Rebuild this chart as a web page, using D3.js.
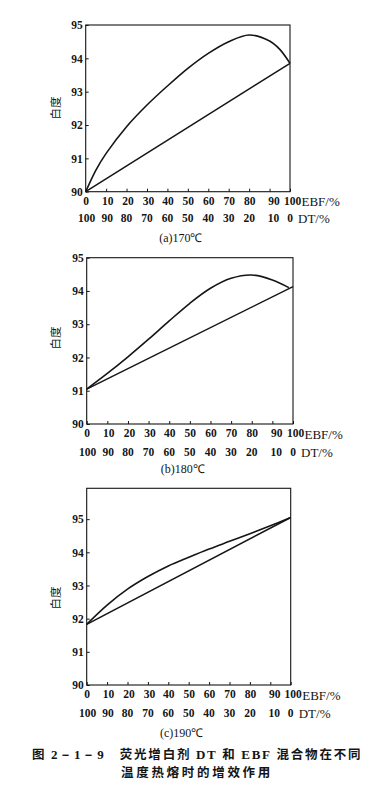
<!DOCTYPE html>
<html><head><meta charset="utf-8">
<script src="https://cdn.jsdelivr.net/npm/d3@7"></script>
<style>html,body{margin:0;padding:0;background:#fff}</style>
</head><body>
<script>
// ---- data ----
const ebfTicks = [0,10,20,30,40,50,60,70,80,90,100];
const dtTicks  = [100,90,80,70,60,50,40,30,20,10,0];
const yTicks   = [90,91,92,93,94,95];

const curveAx = [0,5,10,20,30,40,50,60,70,80,90,95,100];
const curveAy = [90,90.65,91.15,91.95,92.6,93.17,93.7,94.15,94.5,94.7,94.52,94.27,93.85];
const lineAx = [0,100];
const lineAy = [90,93.85];

const curveBx = [0,10,20,30,40,50,60,70,80,90,98];
const curveBy = [91.05,91.52,92.02,92.55,93.1,93.63,94.08,94.38,94.48,94.33,94.1];
const lineBx = [0,100];
const lineBy = [91.05,94.13];

const curveCx = [0,10,20,30,40,50,60,70,80,90,100];
const curveCy = [91.83,92.41,92.89,93.27,93.59,93.85,94.1,94.33,94.56,94.8,95.05];
const lineCx = [0,100];
const lineCy = [91.83,95.05];

const panelTitles = ["(a)170℃","(b)180℃","(c)190℃"];
const yLabel = "白度";
const xLabel1 = "EBF/%";
const xLabel2 = "DT/%";
const captionParts1 = [["图 ", "cjk"], ["2－1－9", "serif"], ["　荧光增白剂 ", "cjk"], ["DT", "serif"], [" 和 ", "cjk"], ["EBF", "serif"], [" 混合物在不同", "cjk"]];
const caption2 = "温度热熔时的增效作用";

// ---- layout ----
const W = 387, H = 811;
const svg = d3.select("body").append("svg").attr("width", W).attr("height", H);
const serif = "'Liberation Serif','Times New Roman',serif";
const cjk = "'Noto Sans CJK SC','Noto Sans CJK TC',sans-serif";
const ink = "#151515";
// small typesetting nudges of tick labels (pixels), by tick index
const row1Nudge = [0,1,1,1,0,0,0,0,0,4,2];
const row2Nudge = [1,1,0,0,0,0,0,0,0,4,0];

const panels = [
  {x0:85.7, x1:290, top:25, bottom:191.7, ymax:95, cx:curveAx, cy:curveAy, lx:lineAx, ly:lineAy, title:panelTitles[0], ylabY:108, r2:26.3, cap:46},
  {x0:86.7, x1:293, top:257.7, bottom:424, ymax:95, cx:curveBx, cy:curveBy, lx:lineBx, ly:lineBy, title:panelTitles[1], ylabY:338, r2:28, cap:45},
  {x0:86.7, x1:290.7, top:488.3, bottom:685, ymax:95.93, cx:curveCx, cy:curveCy, lx:lineCx, ly:lineCy, title:panelTitles[2], ylabY:598, r2:28.3, cap:47.5}
];

panels.forEach(p => {
  const x = d3.scaleLinear().domain([0,100]).range([p.x0, p.x1]);
  const y = d3.scaleLinear().domain([90, p.ymax]).range([p.bottom, p.top]);
  const g = svg.append("g");

  // frame
  g.append("rect").attr("x", p.x0).attr("y", p.top)
    .attr("width", p.x1 - p.x0).attr("height", p.bottom - p.top)
    .attr("fill","none").attr("stroke", ink).attr("stroke-width", 1.1);

  // y axis
  const ya = d3.axisLeft(y).tickValues(yTicks).tickSize(-3).tickPadding(5).tickFormat(d3.format("d"));
  const yg = g.append("g").attr("transform", `translate(${p.x0},0)`).call(ya);
  yg.select(".domain").remove();
  yg.selectAll("line").attr("stroke", ink);
  yg.selectAll("text").attr("font-family", serif).attr("font-weight","bold")
    .attr("font-size", 11.5).attr("fill", ink).attr("x", -3);

  // x axis row 1 (EBF)
  const xa = d3.axisBottom(x).tickValues(ebfTicks).tickSize(-3).tickPadding(6);
  const xg = g.append("g").attr("transform", `translate(0,${p.bottom})`).call(xa);
  xg.select(".domain").remove();
  xg.selectAll("line").attr("stroke", ink);
  xg.selectAll("text").attr("font-family", serif).attr("font-weight","bold")
    .attr("font-size", 11.5).attr("fill", ink).attr("y", 5)
    .attr("dx", (d,i) => row1Nudge[i]);

  // x axis row 2 (DT)
  const x2 = g.append("g").attr("transform", `translate(0,${p.bottom + p.r2})`);
  x2.selectAll("text").data(ebfTicks).join("text")
    .attr("x", (d,i) => x(d) + row2Nudge[i]).attr("y", 0).attr("dy","0.35em")
    .attr("text-anchor","middle")
    .attr("font-family", serif).attr("font-weight","bold").attr("font-size", 11.5).attr("fill", ink)
    .text((d,i) => dtTicks[i]);

  g.append("text").attr("x", p.x1 + 11.5).attr("y", p.bottom + 10).attr("dy","0.35em")
    .attr("font-family", serif).attr("font-size", 13).attr("fill", ink).text(xLabel1);
  g.append("text").attr("x", p.x1 + 8).attr("y", p.bottom + p.r2).attr("dy","0.35em")
    .attr("font-family", serif).attr("font-size", 13).attr("fill", ink).text(xLabel2);

  // panel title
  g.append("text").attr("x", (p.x0 + p.x1)/2 - 7).attr("y", p.bottom + p.cap).attr("dy","0.35em")
    .attr("text-anchor","middle").attr("font-family", serif).attr("font-size", 12).attr("fill", ink)
    .text(p.title);

  // y label
  g.append("text").attr("transform", `translate(60,${p.ylabY}) rotate(-90)`)
    .attr("text-anchor","middle").attr("font-family", cjk).attr("font-size", 11.5).attr("fill", ink)
    .text(yLabel);

  // lines
  const line = d3.line().x(d => x(d[0])).y(d => y(d[1]));
  g.append("path").datum(p.lx.map((v,i) => [v, p.ly[i]]))
    .attr("d", line).attr("fill","none").attr("stroke", ink).attr("stroke-width", 1.5);
  g.append("path").datum(p.cx.map((v,i) => [v, p.cy[i]]))
    .attr("d", line.curve(d3.curveCatmullRom.alpha(0.5))).attr("fill","none").attr("stroke", ink).attr("stroke-width", 1.6);
});

// caption
const cap = svg.append("g").attr("font-weight","bold").attr("fill", ink);
const t1 = cap.append("text").attr("x", 32).attr("y", 753.5).attr("dy","0.35em").attr("letter-spacing", 1.8);
captionParts1.forEach(([s, f]) => {
  t1.append("tspan").attr("font-family", f === "cjk" ? cjk : serif)
    .attr("font-size", f === "cjk" ? 12.5 : 13).text(s);
});
cap.append("text").attr("x", 121).attr("y", 773).attr("dy","0.35em").attr("letter-spacing", 2.7)
  .attr("font-family", cjk).attr("font-size", 12.5).text(caption2);
</script>
</body></html>
